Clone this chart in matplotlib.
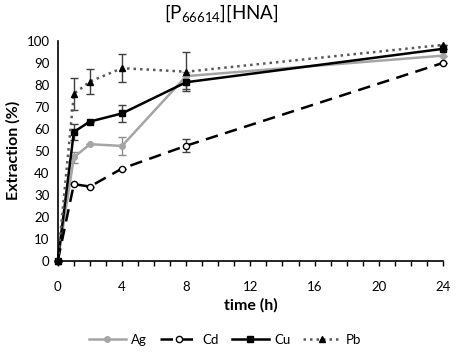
import numpy as np
import matplotlib
matplotlib.use("Agg")
import matplotlib.pyplot as plt
from matplotlib.ticker import MultipleLocator
from matplotlib.lines import Line2D

plt.rcParams['font.family'] = ['Lato', 'DejaVu Sans']

time_h = [0, 1, 2, 4, 8, 24]

ag = [0, 47, 53, 52.2, 84, 93.3]
ag_err = [0, 2.5, 0, 4, 2, 0]
cd = [0, 34.8, 33.7, 41.9, 52.3, 90]
cd_err = [0, 0, 0, 0, 3, 0]
cu = [0, 58.6, 63.3, 67, 81.2, 96.4]
cu_err = [0, 3.5, 0, 4, 3, 0]
pb = [0, 75.9, 81.5, 87.6, 86, 98.2]
pb_err = [0, 7.3, 5.5, 6.4, 9, 0]

fig = plt.figure(figsize=(4.59, 3.56), dpi=100)
ax = fig.add_axes([0.126, 0.268, 0.839, 0.617])

styles = [
    ('Ag', ag, ag_err, dict(color='#A5A5A5', marker='o', ms=4, ls='-')),
    ('Cd', cd, cd_err, dict(color='black', marker='o', ms=4.5, mfc='white', mec='black', ls=(0, (5, 3)))),
    ('Cu', cu, cu_err, dict(color='black', marker='s', ms=4.5, ls='-')),
    ('Pb', pb, pb_err, dict(color='#595959', marker='^', ms=5, mfc='black', mec='black', ls=(0, (1, 1.6)))),
]
ecols = {'Ag': '#8c8c8c', 'Cd': '#404040', 'Cu': '#404040', 'Pb': '#404040'}

handles = []
for name, y, err, st in styles:
    cont = ax.errorbar(time_h, y, yerr=err, ecolor=ecols[name], capsize=3,
                       elinewidth=1, capthick=1, lw=1.8, **st)
    for art in [cont[0], *cont[1], *cont[2]]:
        art.set_clip_on(False)
    handles.append(Line2D([], [], lw=1.8, label=name, **st))

ax.set_xlim(0, 24)
ax.set_ylim(0, 100)
ax.xaxis.set_major_locator(MultipleLocator(4))
ax.xaxis.set_minor_locator(MultipleLocator(1))
ax.yaxis.set_major_locator(MultipleLocator(10))
ax.tick_params(axis='x', which='both', direction='out', length=3.5, width=1,
               labelsize=9.5, pad=11)
ax.tick_params(axis='y', length=0, labelsize=9.5, pad=6)
for s in ['top', 'right']:
    ax.spines[s].set_visible(False)
for s in ['left', 'bottom']:
    ax.spines[s].set_linewidth(1.2)

ax.set_xlabel('time (h)', fontsize=11.5, fontweight='bold', labelpad=4)
ax.set_ylabel('Extraction (%)', fontsize=11.5, fontweight='bold', labelpad=4)
fig.text(0.483, 0.962, r'[P$\mathregular{_{66614}}$][HNA]', ha='center', va='center', fontsize=13.5)

ax.legend(handles=handles, loc='center', bbox_to_anchor=(0.49, 0.045),
          bbox_transform=fig.transFigure, ncol=4, frameon=False, fontsize=9.5,
          handlelength=2.8, columnspacing=1.0, handletextpad=0.4)

fig.savefig('out.png', dpi=100)
